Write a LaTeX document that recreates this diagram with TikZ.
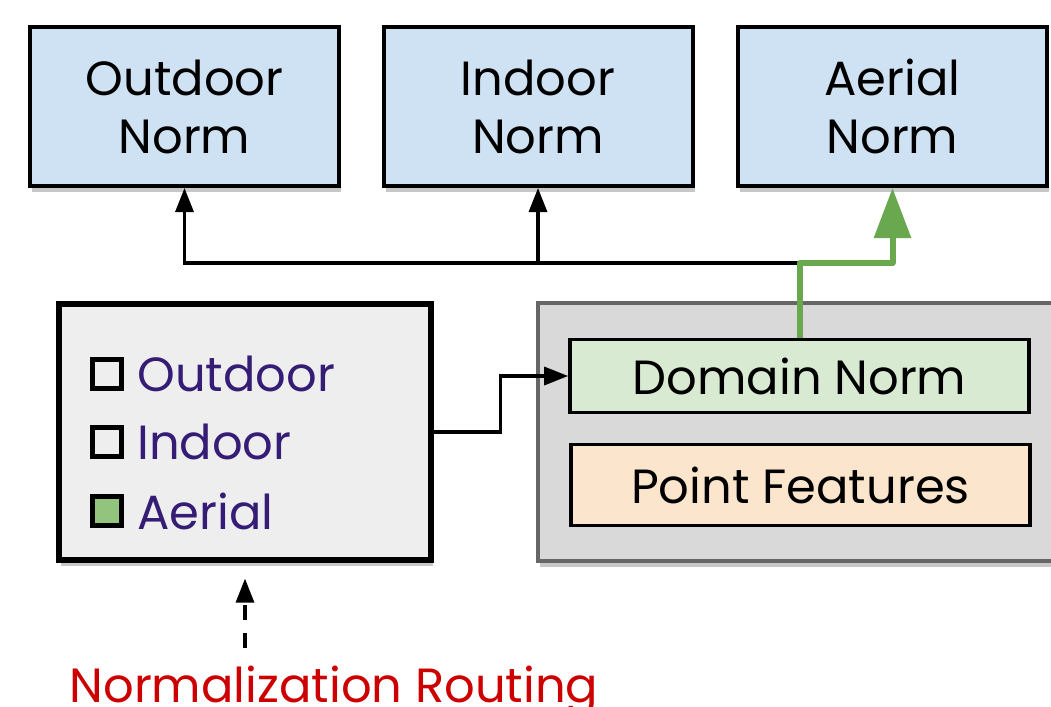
\documentclass[tikz,border=0pt]{standalone}
\usepackage{fontspec}
\setmainfont{Poppins}
\usetikzlibrary{positioning,arrows.meta,shadows}
\definecolor{normblue}{HTML}{CFE2F3}
\definecolor{routegray}{HTML}{EEEEEE}
\definecolor{backgray}{HTML}{D9D9D9}
\definecolor{backedge}{HTML}{666666}
\definecolor{domgreen}{HTML}{D9EAD3}
\definecolor{featorange}{HTML}{FCE5CD}
\definecolor{actgreen}{HTML}{6AA84F}
\definecolor{chkgreen}{HTML}{93C47D}
\definecolor{dompurple}{HTML}{351C75}
\definecolor{routered}{HTML}{CC0000}
\tikzset{
  shade/.style={drop shadow={shadow xshift=1pt,shadow yshift=-3pt,opacity=0.22,fill=black}},
  normbox/.style={rectangle,draw=black,fill=normblue,line width=2pt,align=center,
    minimum width=154.5pt,minimum height=79.5pt,inner sep=0pt,font=\fontsize{24}{29}\selectfont,shade},
  routebox/.style={rectangle,draw=black,fill=routegray,line width=2.6pt,
    minimum width=186pt,minimum height=128pt,shade},
  backbox/.style={rectangle,draw=backedge,fill=backgray,line width=1.8pt,
    minimum width=272pt,minimum height=129pt,shade},
  subbox/.style={rectangle,draw=black,line width=1.8pt,minimum width=229.5pt,minimum height=36.5pt,
    inner sep=0pt,font=\fontsize{24}{29}\selectfont},
  chk/.style={rectangle,draw=black,fill=routegray,line width=2.4pt,minimum size=14.5pt,inner sep=0pt},
  domlabel/.style={text=dompurple,inner sep=0pt,font=\fontsize{24}{29}\selectfont},
  link/.style={-{Triangle[length=12pt,width=9pt]},line width=1.6pt},
  active/.style={-{Triangle[length=25pt,width=18pt]},line width=3pt,draw=actgreen,line join=round},
}
\begin{document}
\begin{tikzpicture}[x=0.5pt,y=-0.5pt]
  \useasboundingbox (0,0) rectangle (1051,707);
  % top row: one norm per domain
  \node[normbox] (onorm) at (184.5,106.5) {Outdoor\\Norm};
  \node[normbox] (inorm) at (538,106.5) {Indoor\\Norm};
  \node[normbox] (anorm) at (892.5,106.5) {Aerial\\Norm};
  % left: domain selector
  \node[routebox] (lbox) at (245,432) {};
  \node[chk] (cout) at (107,374) {};
  \node[chk] (cin) at (107,442) {};
  \node[chk,fill=chkgreen] (caer) at (107,511) {};
  \node[domlabel,right=6.5pt of cout] (tout) {Outdoor};
  \node[domlabel,right=6.5pt of cin] (tin) {Indoor};
  \node[domlabel,right=6.5pt of caer] (taer) {Aerial};
  % right: shared backbone (runs off the page)
  \node[backbox] (bb) at (810,432) {};
  \node[subbox,fill=domgreen] (dnorm) at (799.5,376) {Domain Norm};
  \node[subbox,fill=featorange,minimum height=40.5pt] (feat) at (800.5,485) {Point Features};
  % connectors
  \coordinate (bus) at (800,263);
  \draw[link] (bus) -| (onorm.south);
  \draw[link] (inorm.south |- bus) -- (inorm.south);
  \draw[link] (lbox.east) -- ++(67,0) |- (dnorm.west);
  \draw[active] (dnorm.north -| bus) |- (anorm.south |- bus) -- (anorm.south);
  % routing signal
  \node[text=routered,inner sep=0pt,anchor=base,font=\fontsize{24}{29}\selectfont] (route) at (334,702) {Normalization Routing};
  \draw[link,dash pattern=on 7.5pt off 6.5pt,shorten <=8.5pt,shorten >=8pt] (route.north -| lbox.south) -- (lbox.south);
\end{tikzpicture}
\end{document}
